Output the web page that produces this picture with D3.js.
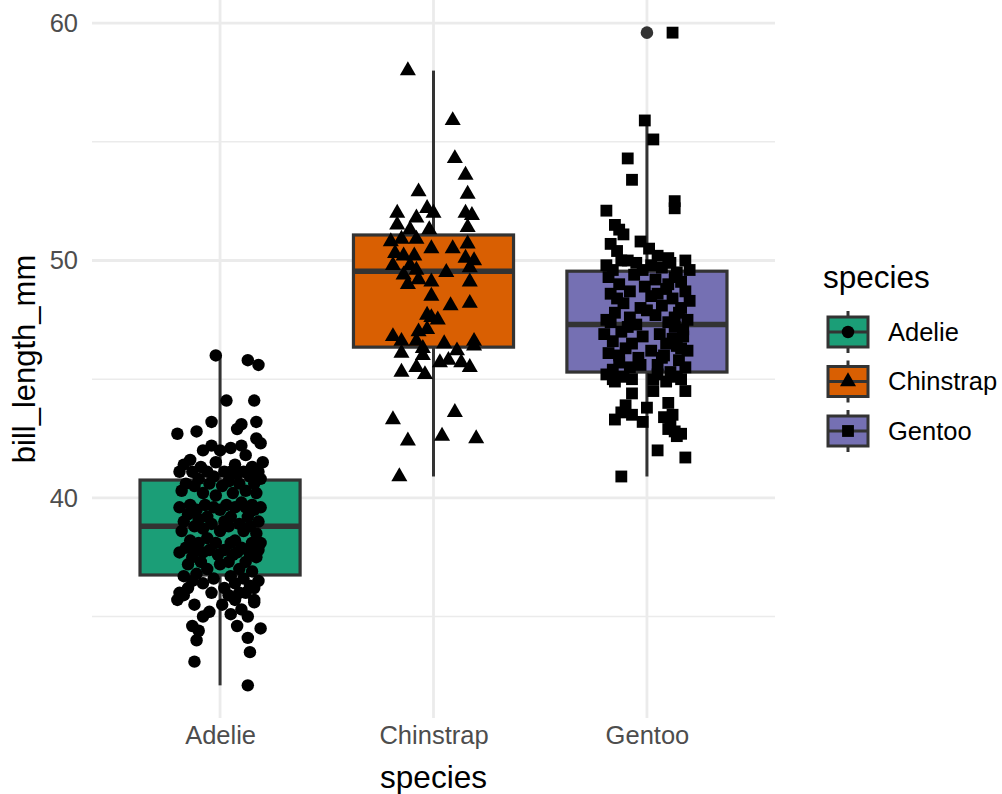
<!DOCTYPE html>
<html>
<head>
<meta charset="utf-8">
<script src="https://cdn.jsdelivr.net/npm/d3@7"></script>
<style>
  body { margin: 0; background: #fff; }
  svg { display: block; font-family: "Liberation Sans", Arial, sans-serif; }
</style>
</head>
<body>
<div id="chart"></div>
<script>
// categories + colours (Dark2)
const species = ['Adelie', 'Chinstrap', 'Gentoo']
const fills = ['#1B9E77', '#D95F02', '#7570B3']
const yTicks = [40, 50, 60]
const yMinor = [35, 45, 55]

// box stats: [lower whisker, q1, median, q3, upper whisker]
const boxStats = [
  [32.1, 36.75, 38.8, 40.75, 46.0],
  [40.9, 46.35, 49.55, 51.075, 58.0],
  [40.9, 45.3, 47.3, 49.55, 55.9]
]
const outliers = [[], [], [59.6]]

// jittered points: [bill_length_mm, jitter (category units)]
const adeliePts = [
  [46.0,-0.02],[45.8,0.13],[45.6,0.18],[44.1,0.03],[44.1,0.16],[43.2,-0.04],[43.2,0.17],
  [43.1,0.10],[42.9,0.08],[42.8,-0.11],[42.7,-0.20],[42.5,0.17],[42.3,0.19],[42.2,-0.04],
  [42.2,0.10],[42.1,0.05],[42.0,0.00],[42.0,-0.08],[41.8,0.12],[41.6,-0.14],[41.5,0.20],
  [41.5,-0.02],[41.4,0.07],[41.4,-0.17],[41.3,0.15],[41.3,-0.09],[41.1,0.02],[41.1,-0.19],
  [41.1,0.11],[41.1,-0.06],[41.1,0.18],[41.1,0.05],[41.1,-0.13],[41.0,0.08],[40.9,-0.03],
  [40.9,0.14],[40.8,-0.10],[40.8,0.19],[40.7,0.04],[40.6,-0.16],[40.6,0.09],[40.6,-0.05],
  [40.6,0.16],[40.5,-0.12],[40.5,0.01],[40.3,0.12],[40.3,-0.18],[40.2,0.06],[40.2,-0.08],
  [40.2,0.17],[40.1,-0.02],[39.8,0.10],[39.7,-0.14],[39.7,0.03],[39.7,0.15],[39.7,-0.07],
  [39.6,0.19],[39.6,-0.19],[39.6,0.07],[39.6,-0.03],[39.6,0.12],[39.5,-0.11],[39.5,0.00],
  [39.5,0.16],[39.3,-0.15],[39.2,0.05],[39.2,-0.06],[39.2,0.13],[39.1,-0.10],[39.0,0.02],
  [39.0,0.18],[39.0,-0.17],[38.9,0.09],[38.9,-0.04],[38.8,0.14],[38.8,-0.12],[38.8,0.04],
  [38.7,-0.08],[38.6,0.11],[38.6,-0.18],[38.6,0.00],[38.5,0.17],[38.3,-0.06],[38.2,0.07],
  [38.2,-0.14],[38.1,0.15],[38.1,-0.02],[38.1,0.05],[38.1,-0.10],[38.1,0.19],[37.9,-0.16],
  [37.9,0.10],[37.8,-0.05],[37.8,0.13],[37.8,-0.12],[37.8,0.02],[37.8,0.18],[37.7,-0.08],
  [37.7,0.08],[37.7,-0.19],[37.6,0.14],[37.6,-0.01],[37.6,0.06],[37.5,-0.13],[37.5,0.17],
  [37.3,0.04],[37.3,-0.09],[37.3,0.12],[37.2,-0.15],[37.2,0.00],[37.0,0.09],[37.0,-0.06],
  [36.9,0.15],[36.8,-0.11],[36.7,0.05],[36.7,-0.17],[36.6,0.11],[36.6,-0.03],[36.5,0.18],
  [36.5,-0.13],[36.4,0.07],[36.4,-0.08],[36.3,0.14],[36.2,-0.15],[36.2,0.02],[36.2,0.16],
  [36.0,-0.19],[36.0,0.09],[36.0,-0.04],[36.0,0.12],[35.9,-0.17],[35.9,0.04],[35.7,-0.20],
  [35.7,0.16],[35.7,0.07],[35.6,0.16],[35.5,-0.12],[35.5,0.01],[35.3,0.10],[35.2,-0.05],
  [35.1,0.05],[35.0,-0.08],[35.0,0.13],[34.6,-0.13],[34.6,0.08],[34.5,0.19],[34.4,-0.10],
  [34.1,0.13],[34.0,-0.11],[33.5,0.14],[33.1,-0.12],[32.1,0.13]
]
const chinstrapPts = [
  [58.0,-0.12],[55.9,0.09],[54.3,0.10],[53.6,0.15],[52.9,-0.07],[52.8,0.16],
  [52.0,-0.17],[52.2,-0.03],[52.0,0.00],[52.0,0.15],[51.9,0.18],[51.5,-0.17],[51.8,-0.08],
  [51.3,-0.11],[51.3,-0.02],[51.4,0.16],[50.8,-0.20],[50.9,-0.15],[50.9,-0.08],[50.5,-0.01],
  [50.5,0.09],[50.7,0.16],[50.3,-0.18],[50.2,-0.14],[50.2,-0.09],[50.1,0.15],[50.0,0.19],
  [49.8,-0.19],[49.8,-0.11],[49.7,0.17],[49.4,-0.14],[49.6,-0.08],[49.2,-0.07],[49.1,-0.01],
  [49.1,0.17],[49.0,-0.12],[48.5,-0.01],[48.2,0.17],[48.1,0.08],[47.7,-0.03],[47.6,-0.01],
  [46.8,-0.19],[46.6,-0.15],[47.0,-0.07],[47.1,-0.03],[46.6,-0.08],[46.6,0.19],[46.1,-0.15],
  [46.3,-0.05],[46.0,-0.05],[45.5,-0.08],[45.3,-0.15],[45.2,-0.04],[45.7,0.03],[45.8,0.07],
  [46.2,0.11],[45.7,0.13],[45.5,0.17],[46.4,0.19],[46.5,0.05],[43.6,0.10],[43.3,-0.19],
  [42.4,-0.12],[42.6,0.04],[42.5,0.20],[40.9,-0.16],[49.5,0.06],[47.5,0.02]
]
const gentooPts = [
  [59.6,0.12],[55.9,-0.01],[55.1,0.03],[54.3,-0.09],[53.4,-0.07],[52.5,0.13],[52.2,0.13],
  [52.1,-0.19],[51.5,-0.15],[51.3,-0.13],[51.1,-0.11],[50.8,-0.03],[50.7,-0.17],[50.5,0.01],
  [50.4,-0.14],[50.1,0.10],[50.0,0.18],[49.9,-0.05],[49.8,-0.19],[49.8,0.02],[50.0,-0.09],
  [49.6,-0.16],[49.7,0.07],[49.5,0.14],[50.2,0.05],[49.6,-0.02],[50.0,-0.12],[49.9,0.11],
  [49.6,0.20],[49.3,-0.18],[49.4,-0.06],
  [49.2,0.04],[49.1,0.16],[49.0,-0.13],[48.8,0.09],[48.7,-0.08],[48.7,0.18],[48.6,-0.17],
  [48.5,0.02],[48.4,0.12],[48.2,-0.11],[48.1,0.07],[48.0,-0.03],[47.8,0.15],[47.8,-0.15],
  [47.7,0.04],[47.6,-0.08],[47.5,0.19],[47.5,-0.19],[47.4,0.10],[47.3,-0.05],[47.2,0.13],
  [47.0,-0.12],[46.9,0.06],[46.8,-0.02],[46.8,0.17],[46.6,-0.16],[46.5,0.09],[46.5,-0.07],
  [46.4,0.14],[46.3,-0.10],[46.2,0.02],[46.2,0.19],[46.1,-0.18],[46.0,0.08],[45.9,-0.04],
  [45.8,0.15],[45.7,-0.13],[45.6,0.05],[45.5,-0.08],[45.5,0.18],[45.4,-0.16],[45.3,0.11],
  [49.0,0.10],[48.4,-0.14],[47.9,0.00],[47.2,-0.09],[46.7,0.12],[48.9,-0.01],[46.0,-0.13],
  [47.1,0.17],[48.3,0.20],[45.9,0.07],[46.9,-0.20],[48.6,0.05],[47.6,0.13],[45.6,-0.03],
  [49.3,0.13],[46.3,0.16],[47.4,-0.17],[48.0,0.16],[45.2,-0.19],[45.1,0.14],[45.2,0.05],
  [45.1,-0.11],[45.0,-0.16],[45.0,-0.07],[45.0,0.03],[45.0,0.16],[44.9,0.09],[44.4,-0.07],
  [44.5,0.03],[44.0,0.10],[43.9,-0.10],[43.6,-0.12],[43.8,0.00],[43.5,-0.07],[43.2,-0.02],
  [43.4,0.08],[43.5,0.12],[42.9,0.10],[42.6,0.14],[42.7,0.16],[42.0,0.05],[41.7,0.18],
  [40.9,-0.12],[44.9,-0.15],[44.5,0.18],[43.3,-0.15],[42.8,0.13],[43.1,0.11]
]
const allPts = [adeliePts, chinstrapPts, gentooPts]
const shapes = [d3.symbolCircle, d3.symbolTriangle, d3.symbolSquare]
const shapeSize = [122, 112, 140]

const W = 1002, H = 794
const svg = d3.select('#chart').append('svg').attr('width', W).attr('height', H)

const panel = { left: 92, right: 775, top: 0, bottom: 718 }
const x = d3.scalePoint().domain(species).range([panel.left, panel.right]).padding(0.6)
const y = d3.scaleLinear().domain([30.725, 60.975]).range([panel.bottom, panel.top])
const step = x.step()

// grid
const g = svg.append('g')
g.selectAll('.minor').data(yMinor).join('line')
  .attr('x1', panel.left).attr('x2', panel.right)
  .attr('y1', d => y(d)).attr('y2', d => y(d))
  .attr('stroke', '#EBEBEB').attr('stroke-width', 1.4)
g.selectAll('.major').data(yTicks).join('line')
  .attr('x1', panel.left).attr('x2', panel.right)
  .attr('y1', d => y(d)).attr('y2', d => y(d))
  .attr('stroke', '#EBEBEB').attr('stroke-width', 2.8)
g.selectAll('.vmajor').data(species).join('line')
  .attr('x1', d => x(d)).attr('x2', d => x(d))
  .attr('y1', panel.top).attr('y2', panel.bottom)
  .attr('stroke', '#EBEBEB').attr('stroke-width', 2.8)

// axes (text only, theme_minimal)
const yAxis = d3.axisLeft(y).tickValues(yTicks).tickSize(0).tickPadding(14)
svg.append('g').attr('transform', `translate(${panel.left},0)`).call(yAxis)
  .call(a => a.select('.domain').remove())
  .selectAll('text').attr('font-size', 25.5).attr('fill', '#4D4D4D')
  .attr('font-family', '"Liberation Sans", Arial, sans-serif')

const xAxis = d3.axisBottom(x).tickSize(0).tickPadding(8)
svg.append('g').attr('transform', `translate(0,${panel.bottom})`).call(xAxis)
  .call(a => a.select('.domain').remove())
  .selectAll('text').attr('font-size', 25.5).attr('fill', '#4D4D4D')
  .attr('font-family', '"Liberation Sans", Arial, sans-serif')

svg.append('text').attr('x', x('Chinstrap')).attr('y', 788)
  .attr('text-anchor', 'middle').attr('font-size', 31.5).text('species')
svg.append('text').attr('transform', `translate(35,${(panel.top + panel.bottom) / 2}) rotate(-90)`)
  .attr('text-anchor', 'middle').attr('font-size', 31).text('bill_length_mm')

// boxplots
const bw = step * 0.75
const boxes = svg.append('g')
species.forEach((s, i) => {
  const [lo, q1, med, q3, hi] = boxStats[i]
  const cx = x(s)
  const bg = boxes.append('g')
  bg.append('line').attr('x1', cx).attr('x2', cx).attr('y1', y(hi)).attr('y2', y(q3))
    .attr('stroke', '#333333').attr('stroke-width', 3)
  bg.append('line').attr('x1', cx).attr('x2', cx).attr('y1', y(q1)).attr('y2', y(lo))
    .attr('stroke', '#333333').attr('stroke-width', 3)
  bg.append('rect').attr('x', cx - bw / 2).attr('width', bw)
    .attr('y', y(q3)).attr('height', y(q1) - y(q3))
    .attr('fill', fills[i]).attr('stroke', '#333333').attr('stroke-width', 3.2)
  bg.append('line').attr('x1', cx - bw / 2).attr('x2', cx + bw / 2)
    .attr('y1', y(med)).attr('y2', y(med))
    .attr('stroke', '#333333').attr('stroke-width', 5.5)
  bg.selectAll('circle').data(outliers[i]).join('circle')
    .attr('cx', cx).attr('cy', d => y(d)).attr('r', 6.3).attr('fill', '#333333')
})

// jittered points
species.forEach((s, i) => {
  svg.append('g').selectAll('path').data(allPts[i]).join('path')
    .attr('d', d3.symbol(shapes[i], shapeSize[i]))
    .attr('transform', d => `translate(${x(s) + d[1] * step},${y(d[0])})`)
    .attr('fill', '#000')
})

// legend
const leg = svg.append('g')
leg.append('text').attr('x', 823).attr('y', 288).attr('font-size', 31.5).text('species')
species.forEach((s, i) => {
  const cy = 332 + i * 49.5
  const kx = 828, kw = 40, kh = 30
  const k = leg.append('g')
  k.append('line').attr('x1', kx + kw / 2).attr('x2', kx + kw / 2)
    .attr('y1', cy - kh / 2 - 6).attr('y2', cy + kh / 2 + 6)
    .attr('stroke', '#333333').attr('stroke-width', 3)
  k.append('rect').attr('x', kx).attr('y', cy - kh / 2).attr('width', kw).attr('height', kh)
    .attr('fill', fills[i]).attr('stroke', '#333333').attr('stroke-width', 3)
  k.append('line').attr('x1', kx).attr('x2', kx + kw).attr('y1', cy).attr('y2', cy)
    .attr('stroke', '#333333').attr('stroke-width', 3)
  k.append('path').attr('d', d3.symbol(shapes[i], shapeSize[i])())
    .attr('transform', `translate(${kx + kw / 2},${cy})`).attr('fill', '#000')
  leg.append('text').attr('x', 888).attr('y', cy).attr('dy', '0.35em')
    .attr('font-size', 25.5).attr('fill', '#000').text(s)
})
</script>
</body>
</html>
